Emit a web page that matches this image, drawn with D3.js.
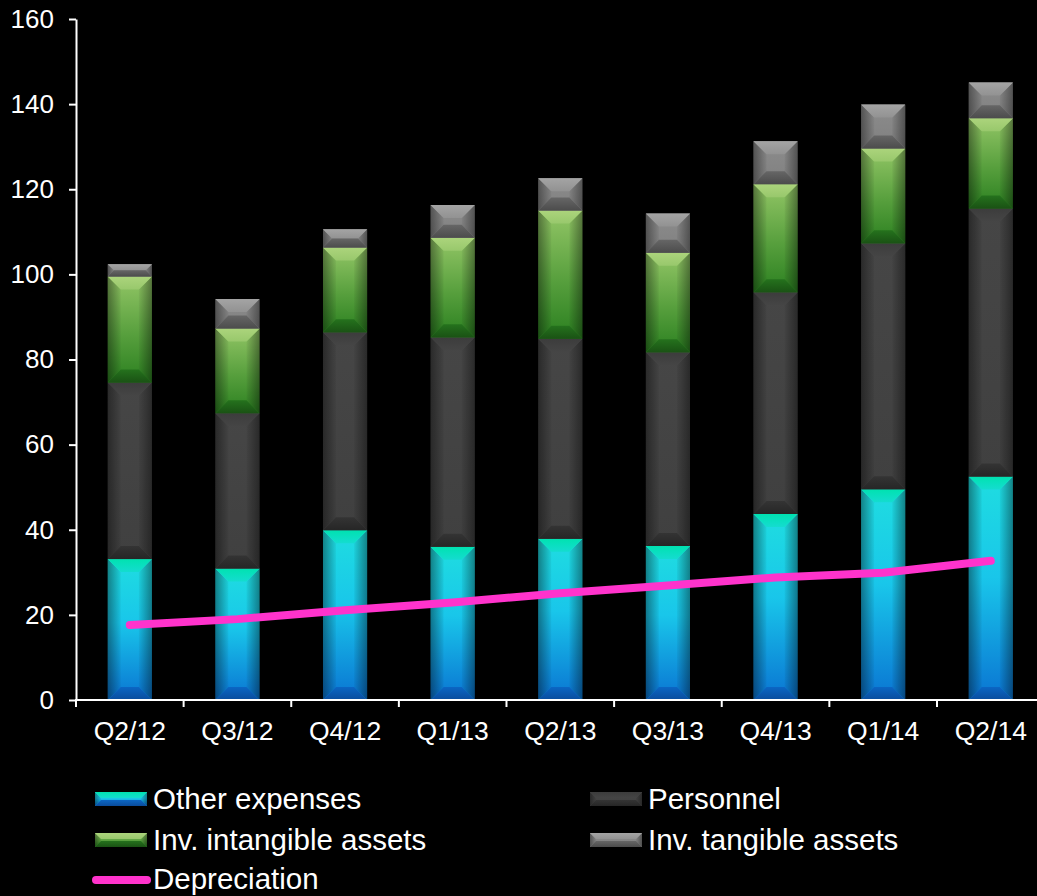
<!DOCTYPE html>
<html>
<head>
<meta charset="utf-8">
<script src="https://cdn.jsdelivr.net/npm/d3@7"></script>
<style>
  html, body { margin: 0; padding: 0; background: #000; }
  svg { display: block; font-family: "Liberation Sans", Arial, sans-serif; }
</style>
</head>
<body>
<svg id="chart" width="1037" height="896"></svg>
<script>
// Quarterly cost breakdown (stacked) with depreciation trend
const categories = ["Q2/12", "Q3/12", "Q4/12", "Q1/13", "Q2/13", "Q3/13", "Q4/13", "Q1/14", "Q2/14"];
const otherExpenses = [33.1, 30.9, 39.9, 36.0, 37.9, 36.2, 43.7, 49.5, 52.5];
const personnel     = [41.5, 36.5, 46.5, 49.2, 47.0, 45.5, 52.1, 57.8, 63.0];
const invIntangible = [24.9, 19.9, 19.9, 23.4, 30.1, 23.4, 25.4, 22.3, 21.2];
const invTangible   = [2.9, 6.9, 4.3, 7.7, 7.6, 9.2, 10.1, 10.3, 8.4];
const depreciation  = [17.6, 19.0, 21.1, 22.9, 25.1, 26.9, 28.8, 29.9, 32.7];
const yTicks = [0, 20, 40, 60, 80, 100, 120, 140, 160];

const seriesKeys = ["other", "personnel", "intangible", "tangible"];
const seriesNames = {
  other: "Other expenses",
  personnel: "Personnel",
  intangible: "Inv. intangible assets",
  tangible: "Inv. tangible assets"
};

// Bevel palette per series: body gradient stops, top facet, bottom facet
const palette = {
  other: {
    body: [["0%", "#1fdde0"], ["45%", "#19c6ea"], ["100%", "#0a74d2"]],
    top: [["0%", "#00e2b0"], ["100%", "#14dcd0"]],
    bottom: [["0%", "#0b66c4"], ["100%", "#0a4c9c"]]
  },
  personnel: {
    body: [["0%", "#464646"], ["100%", "#404040"]],
    top: [["0%", "#3c3c3c"], ["100%", "#454545"]],
    bottom: [["0%", "#343434"], ["100%", "#262626"]]
  },
  intangible: {
    body: [["0%", "#93c666"], ["55%", "#579f3d"], ["100%", "#2b8020"]],
    top: [["0%", "#acd47c"], ["100%", "#98c86c"]],
    bottom: [["0%", "#25721d"], ["100%", "#1a5214"]]
  },
  tangible: {
    body: [["0%", "#8c8c8c"], ["100%", "#808080"]],
    top: [["0%", "#a4a4a4"], ["100%", "#929292"]],
    bottom: [["0%", "#666666"], ["100%", "#4c4c4c"]]
  }
};

const svg = d3.select("#chart");
const W = 1037, H = 896;
svg.append("rect").attr("width", W).attr("height", H).attr("fill", "#000");

const defs = svg.append("defs");
function vGrad(id, stops) {
  const g = defs.append("linearGradient").attr("id", id)
    .attr("x1", 0).attr("y1", 0).attr("x2", 0).attr("y2", 1);
  stops.forEach(([o, c]) => g.append("stop").attr("offset", o).attr("stop-color", c));
}
seriesKeys.forEach(k => {
  vGrad(`body-${k}`, palette[k].body);
  vGrad(`top-${k}`, palette[k].top);
  vGrad(`bot-${k}`, palette[k].bottom);
});
// Side facets darken towards the outer edge
const sideL = defs.append("linearGradient").attr("id", "sideL").attr("x1", 0).attr("x2", 1).attr("y1", 0).attr("y2", 0);
sideL.append("stop").attr("offset", "0%").attr("stop-color", "#000").attr("stop-opacity", 0.4);
sideL.append("stop").attr("offset", "100%").attr("stop-color", "#000").attr("stop-opacity", 0.04);
const sideR = defs.append("linearGradient").attr("id", "sideR").attr("x1", 1).attr("x2", 0).attr("y1", 0).attr("y2", 0);
sideR.append("stop").attr("offset", "0%").attr("stop-color", "#000").attr("stop-opacity", 0.4);
sideR.append("stop").attr("offset", "100%").attr("stop-color", "#000").attr("stop-opacity", 0.04);

// Scales
const plotLeft = 76, plotRight = 1044.6, plotTop = 19, plotBottom = 700;
const x = d3.scaleBand().domain(categories).range([plotLeft, plotRight])
  .paddingInner(0.59).paddingOuter(0.295);
const y = d3.scaleLinear().domain([0, 160]).range([plotBottom, plotTop]);

// Stack the cost components
const rows = categories.map((c, i) => ({
  cat: c,
  other: otherExpenses[i],
  personnel: personnel[i],
  intangible: invIntangible[i],
  tangible: invTangible[i]
}));
const stacked = d3.stack().keys(seriesKeys)(rows);

function bevelRect(g, bx, by, bw, bh, key, maxB) {
  const b = Math.min(maxB, bw / 2, bh / 2);
  g.append("rect").attr("x", bx).attr("y", by).attr("width", bw).attr("height", bh)
    .attr("fill", `url(#body-${key})`);
  g.append("path")
    .attr("d", `M${bx},${by}L${bx + b},${by + b}L${bx + b},${by + bh - b}L${bx},${by + bh}Z`)
    .attr("fill", "url(#sideL)");
  g.append("path")
    .attr("d", `M${bx + bw},${by}L${bx + bw - b},${by + b}L${bx + bw - b},${by + bh - b}L${bx + bw},${by + bh}Z`)
    .attr("fill", "url(#sideR)");
  g.append("path")
    .attr("d", `M${bx},${by}L${bx + bw},${by}L${bx + bw - b},${by + b}L${bx + b},${by + b}Z`)
    .attr("fill", `url(#top-${key})`);
  g.append("path")
    .attr("d", `M${bx},${by + bh}L${bx + bw},${by + bh}L${bx + bw - b},${by + bh - b}L${bx + b},${by + bh - b}Z`)
    .attr("fill", `url(#bot-${key})`);
}

// Bars
const barsG = svg.append("g");
stacked.forEach(layer => {
  const key = layer.key;
  layer.forEach(d => {
    const y0 = y(d[1]), y1 = y(d[0]);
    bevelRect(barsG, x(d.data.cat), y0, x.bandwidth(), y1 - y0, key, 13);
  });
});

// Axes
const axisColor = "#ffffff";
const yAxis = svg.append("g").attr("transform", `translate(${plotLeft},0)`)
  .call(d3.axisLeft(y).tickValues(yTicks).tickSize(7).tickSizeOuter(0).tickPadding(15));
yAxis.select(".domain").attr("stroke", axisColor).attr("stroke-width", 2);
yAxis.selectAll(".tick line").attr("stroke", axisColor).attr("stroke-width", 2);
yAxis.selectAll(".tick text").attr("fill", axisColor).attr("font-size", 26)
  .attr("font-family", "Liberation Sans, Arial, sans-serif");

const xAxis = svg.append("g").attr("transform", `translate(0,${plotBottom})`)
  .call(d3.axisBottom(x).tickSize(0).tickPadding(21));
xAxis.select(".domain").remove();
xAxis.selectAll(".tick text").attr("fill", axisColor).attr("font-size", 26.5)
  .attr("font-family", "Liberation Sans, Arial, sans-serif");
xAxis.append("line").attr("x1", plotLeft - 1).attr("x2", W).attr("y1", 0).attr("y2", 0)
  .attr("stroke", axisColor).attr("stroke-width", 2);
// category boundary ticks
const gap = x.step() * x.paddingInner() / 2;
xAxis.selectAll(".bound").data(categories).join("line").attr("class", "bound")
  .attr("x1", c => x(c) - gap).attr("x2", c => x(c) - gap)
  .attr("y1", 0).attr("y2", 7).attr("stroke", axisColor).attr("stroke-width", 2);

// Depreciation line
const line = d3.line()
  .x((d, i) => x(categories[i]) + x.bandwidth() / 2)
  .y(d => y(d));
svg.append("path").datum(depreciation).attr("d", line)
  .attr("fill", "none").attr("stroke", "#ff33cc").attr("stroke-width", 8)
  .attr("stroke-linecap", "round").attr("stroke-linejoin", "round");

// Legend
const legend = svg.append("g").attr("font-size", 29.5)
  .attr("font-family", "Liberation Sans, Arial, sans-serif").attr("fill", "#fff");
const legendItems = [
  { key: "other", col: 0, row: 0 },
  { key: "personnel", col: 1, row: 0 },
  { key: "intangible", col: 0, row: 1 },
  { key: "tangible", col: 1, row: 1 }
];
const colX = [95, 590], rowY = [799, 840, 880];
legendItems.forEach(it => {
  const sx = colX[it.col], sy = rowY[it.row];
  bevelRect(legend, sx, sy - 7, 52, 14, it.key, 6);
  legend.append("text").attr("x", sx + 58).attr("y", sy + 9.5).text(seriesNames[it.key]);
});
legend.append("line").attr("x1", 96).attr("x2", 147).attr("y1", rowY[2]).attr("y2", rowY[2])
  .attr("stroke", "#ff33cc").attr("stroke-width", 8).attr("stroke-linecap", "round");
legend.append("text").attr("x", 153).attr("y", rowY[2] + 8.5).text("Depreciation");
</script>
</body>
</html>
